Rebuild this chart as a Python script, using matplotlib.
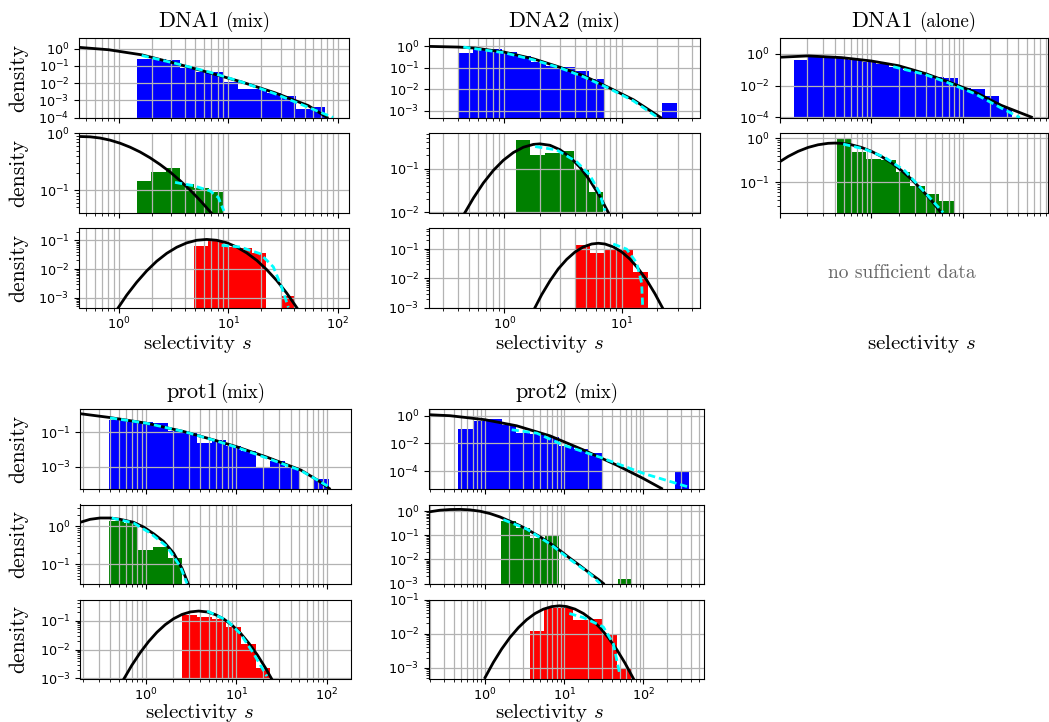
import numpy as np
import matplotlib
matplotlib.use("Agg")
import matplotlib.pyplot as plt
from matplotlib.ticker import LogLocator
from matplotlib.offsetbox import TextArea, HPacker, AnchoredOffsetbox

# ---------------- data ----------------
# DNA1 (mix)
d1m_xlim = (0.43, 127)
d1m_blue_bins = (1.45, 76.6)
d1m_blue_h = [0.256, 0.24, 0.224, 0.079, 0.046, 0.042, 0.0117, 0.0047, 0.0043, 0.0027, 0.0019, 0.00031, 0.00043]
d1m_blue_fit_s = [0.431, 0.8, 1.61, 3.25, 6.56, 13.2, 26.7, 53.9, 80]
d1m_blue_fit_d = [1.2, 0.873, 0.442, 0.142, 0.0418, 0.0117, 0.00274, 4.9e-4, 1e-4]
d1m_blue_tail_s = [1.61, 3.25, 6.56, 13.2, 26.7, 53.9, 91]
d1m_blue_tail_d = [0.404, 0.142, 0.0458, 0.0117, 0.0024, 3.9e-4, 1e-4]
d1m_green_bins = (1.45, 9.0)
d1m_green_h = [0.146, 0.21, 0.25, 0.13, 0.111, 0.091]
d1m_green_fit_s = [0.431, 0.543, 0.67, 0.827, 1.021, 1.26, 1.556, 1.92, 2.37, 2.93, 3.61, 4.46, 5.51, 7.04]
d1m_green_fit_d = [0.885, 0.873, 0.832, 0.763, 0.674, 0.574, 0.472, 0.373, 0.284, 0.209, 0.1475, 0.1007, 0.066, 0.0388]
d1m_green_tail_s = [3.25, 4.78, 6.8, 8.1, 9.1]
d1m_green_tail_d = [0.137, 0.12, 0.097, 0.074, 0.043]
d1m_red_bins = (4.85, 40.9)
d1m_red_h = [0.062, 0.095, 0.06, 0.056, 0.036, 0, 0.0012]
d1m_red_fit_s = [0.986, 1.175, 1.451, 1.791, 2.21, 2.73, 3.37, 4.16, 5.13, 6.34, 7.82, 9.65,
                 11.9, 14.7, 18.2, 22.4, 27.7, 34.2, 42.2]
d1m_red_fit_d = [4.6e-4, 1.24e-3, 3.5e-3, 8.7e-3, 0.0188, 0.0354, 0.0577, 0.0819, 0.101, 0.108,
                 0.101, 0.0828, 0.059, 0.0368, 0.0201, 0.0096, 4.0e-3, 1.46e-3, 4.6e-4]
d1m_red_tail_s = [8.68, 12.8, 19.5, 25.8, 30.7, 35.4]
d1m_red_tail_d = [0.067, 0.059, 0.0345, 0.0119, 0.0024, 4.6e-4]

# DNA2 (mix)
d2m_xlim = (0.228, 46.5)
d2m_blue_bins = (0.405, 29.5)
d2m_blue_h = [0.505, 0.78, 0.72, 0.54, 0.352, 0.184, 0.12, 0.107, 0.07, 0.0305, 0, 0, 0, 0, 0.0023]
d2m_blue_fit_s = [0.228, 0.405, 0.562, 1.0, 1.77, 2.98, 4.71, 7.7, 12.6, 21.5]
d2m_blue_fit_d = [1.0, 0.93, 0.835, 0.542, 0.264, 0.107, 0.0437, 0.0124, 0.00328, 4.9e-4]
d2m_blue_tail_s = [0.447, 1.0, 1.77, 2.98, 4.71, 7.7, 12.6, 19.9]
d2m_blue_tail_d = [0.93, 0.505, 0.237, 0.1, 0.039, 0.0115, 0.0029, 5.3e-4]
d2m_green_bins = (1.25, 6.95)
d2m_green_h = [0.45, 0.203, 0.23, 0.255, 0.1, 0.03]
d2m_green_fit_s = [0.462, 0.545, 0.662, 0.806, 0.98, 1.193, 1.452, 1.767, 2.01, 2.45, 2.98, 3.63,
                   4.42, 5.37, 6.54, 7.69]
d2m_green_fit_d = [0.01, 0.0213, 0.0468, 0.0906, 0.154, 0.231, 0.305, 0.354, 0.364, 0.338, 0.268,
                   0.182, 0.106, 0.0531, 0.0228, 0.01]
d2m_green_tail_s = [1.83, 2.79, 4.13, 5.36, 6.45, 7.2]
d2m_green_tail_d = [0.316, 0.265, 0.143, 0.07, 0.029, 0.011]
d2m_red_bins = (4.0, 16.7)
d2m_red_h = [0.138, 0.072, 0.1, 0.095, 0.0166]
d2m_red_fit_s = [1.826, 2.08, 2.45, 2.88, 3.4, 4.0, 4.71, 5.55, 6.32, 7.2, 8.47, 9.98, 11.75, 13.8,
                 16.3, 19.2, 22.2]
d2m_red_fit_d = [1e-3, 2.74e-3, 8.2e-3, 0.0209, 0.0445, 0.0792, 0.1186, 0.149, 0.158, 0.149, 0.119,
                 0.0805, 0.0456, 0.0218, 8.8e-3, 2.97e-3, 1e-3]
d2m_red_tail_s = [8.47, 11.0, 13.4, 14.8, 15.1]
d2m_red_tail_d = [0.149, 0.1, 0.034, 0.0069, 1e-3]

# DNA1 (alone)
d1a_xlim = (0.1, 85)
d1a_blue_bins = (0.143, 34.8)
d1a_blue_h = [0.417, 0.78, 0.645, 0.53, 0.417, 0.296, 0.22, 0.15, 0.096, 0.051, 0.036, 0.031, 0.0073, 0.006, 0.0022, 3.9e-4]
d1a_blue_fit_s = [0.1, 0.205, 0.475, 1.0, 1.98, 3.86, 6.94, 13.4, 26.3, 56]
d1a_blue_fit_d = [0.615, 0.747, 0.585, 0.36, 0.182, 0.0594, 0.0176, 0.0041, 5.8e-4, 1.06e-4]
d1a_blue_tail_s = [1.74, 3.86, 6.94, 13.4, 26.3, 41.8]
d1a_blue_tail_d = [0.157, 0.051, 0.0152, 0.0032, 3.9e-4, 1e-4]
d1a_green_bins = (0.426, 7.98)
d1a_green_h = [0.95, 0.49, 0.336, 0.32, 0.168, 0.081, 0.055, 0.039]
d1a_green_fit_s = [0.1, 0.1243, 0.1597, 0.2053, 0.2639, 0.3393, 0.401, 0.474, 0.609, 0.783, 1.006,
                   1.293, 1.663, 2.138, 2.748, 3.533, 4.54, 5.84]
d1a_green_fit_d = [0.29, 0.385, 0.502, 0.615, 0.706, 0.761, 0.771, 0.761, 0.706, 0.615, 0.502,
                   0.385, 0.277, 0.186, 0.118, 0.07, 0.039, 0.0204]
d1a_green_tail_s = [0.495, 0.85, 1.41, 2.33, 3.86, 6.1]
d1a_green_tail_d = [0.73, 0.565, 0.366, 0.183, 0.0594, 0.021]

# prot1 (mix)
p1m_xlim = (0.188, 186)
p1m_blue_bins = (0.392, 106)
p1m_blue_h = [0.48, 0.42, 0.39, 0.33, 0.11, 0.087, 0.025, 0.036, 0.016, 0.0085, 9.1e-4, 0.0022, 1e-3, 0, 1.9e-4]
p1m_blue_fit_s = [0.188, 0.391, 1, 2.62, 6.15, 10, 22.1, 51.9, 79.3, 107]
p1m_blue_fit_d = [1.17, 0.714, 0.334, 0.109, 0.031, 0.0146, 0.0035, 6.4e-4, 1.67e-4, 5.5e-5]
p1m_blue_tail_s = [0.401, 1, 2.62, 6.15, 10, 22.1, 51.9, 111]
p1m_blue_tail_d = [0.67, 0.334, 0.109, 0.03, 0.0134, 0.0031, 6e-4, 6e-5]
p1m_green_bins = (0.392, 2.54)
p1m_green_h = [1.36, 1.23, 0.24, 0.28, 0.144]
p1m_green_fit_s = [0.188, 0.241, 0.311, 0.401, 0.519, 0.729, 0.942, 1.217, 1.571, 2.03, 2.51, 2.93]
p1m_green_fit_d = [1.28, 1.53, 1.66, 1.66, 1.53, 1.28, 0.96, 0.639, 0.4, 0.196, 0.0783, 0.0313]
p1m_green_tail_s = [0.419, 0.729, 1.117, 1.71, 2.41, 2.85]
p1m_green_tail_d = [1.66, 1.23, 0.665, 0.294, 0.0867, 0.0313]
p1m_red_bins = (2.53, 23.8)
p1m_red_h = [0.149, 0.13, 0.115, 0.062, 0.016, 0.0023]
p1m_red_fit_s = [0.574, 0.699, 0.865, 1.071, 1.325, 1.639, 2.03, 2.51, 3.11, 3.84, 4.76, 5.89, 7.29,
                 9.02, 11.2, 13.8, 17.1, 21.2, 24.5]
p1m_red_fit_d = [1e-3, 2.86e-3, 7.8e-3, 0.01875, 0.0394, 0.0721, 0.1156, 0.162, 0.198, 0.212, 0.197,
                 0.159, 0.1116, 0.0678, 0.0357, 0.01637, 6.5e-3, 2.23e-3, 1e-3]
p1m_red_tail_s = [4.76, 7.93, 11.2, 15.7, 21.8]
p1m_red_tail_d = [0.212, 0.1, 0.034, 0.0069, 0.0012]

# prot2 (mix)
p2m_xlim = (0.196, 584)
p2m_blue_bins = (0.46, 380)
p2m_blue_h = [0.107, 0.387, 0.57, 0.22, 0.055, 0.049, 0.028, 0.0066, 0.0042, 0.0019, 0, 0, 0, 0, 0, 8e-5]
p2m_blue_fit_s = [0.196, 0.361, 1, 2.51, 6.62, 17.4, 46, 100, 170]
p2m_blue_fit_d = [1.18, 1.0, 0.512, 0.187, 0.035, 0.0034, 2.7e-4, 2.9e-5, 5.5e-6]
p2m_blue_tail_s = [2.17, 4.5, 9.6, 28.3, 100, 389]
p2m_blue_tail_d = [0.096, 0.055, 0.0078, 1e-3, 6.8e-5, 6.5e-6]
p2m_green_bins = (1.59, 72.3)
p2m_green_h = [0.38, 0.2, 0.077, 0.1, 0, 0, 0, 0, 1.5e-3]
p2m_green_fit_s = [0.196, 0.27, 0.361, 0.483, 0.646, 0.865, 1.157, 1.547, 2.07, 2.77, 3.70, 4.95,
                   6.62, 8.86, 11.85, 15.85, 21.2, 27.0, 31.3]
p2m_green_fit_d = [0.938, 1.101, 1.174, 1.193, 1.137, 1.0, 0.799, 0.579, 0.382, 0.251, 0.150, 0.0871,
                   0.0473, 0.0233, 0.01115, 5.5e-3, 2.63e-3, 1.48e-3, 1e-3]
p2m_green_tail_s = [1.7, 3.36, 6.62, 11.8, 21.2, 28.4]
p2m_green_tail_d = [0.448, 0.182, 0.044, 0.0101, 0.0025, 1e-3]
p2m_red_bins = (3.7, 70.8)
p2m_red_h = [0.0118, 0.058, 0.058, 0.026, 0.027, 0.0091, 9.5e-4]
p2m_red_fit_s = [1.0, 1.274, 1.623, 2.07, 2.64, 3.36, 4.28, 5.45, 6.95, 8.7, 10.77, 13.7, 17.5, 22.3,
                 28.4, 36.2, 46.1, 58.7, 74.8]
p2m_red_fit_d = [5.2e-4, 1.45e-3, 3.57e-3, 7.8e-3, 0.01503, 0.0257, 0.0389, 0.0521, 0.0619, 0.0653,
                 0.0622, 0.0524, 0.039, 0.0257, 0.0149, 7.6e-3, 3.46e-3, 1.38e-3, 4.9e-4]
p2m_red_tail_s = [11.6, 17.5, 31.2, 41.8, 50.6]
p2m_red_tail_d = [0.039, 0.0297, 0.0158, 0.0051, 6.2e-4]

# ---------------- figure ----------------
W, H = 1049, 722
fig = plt.figure(figsize=(W / 100, H / 100), dpi=100)

SERIF = dict(fontfamily="cmr10", math_fontfamily="cm")


def place(left, right, top, bottom, sharex=None):
    return fig.add_axes([left / W, (H - bottom) / H, (right - left) / W, (bottom - top) / H],
                        sharex=sharex)


def panel(ax, bins, heights, color, fit_s, fit_d, tail_s, tail_d, ylim, yexp, xlim):
    h = np.array(heights, dtype=float)
    edges = np.geomspace(bins[0], bins[1], len(h) + 1)
    keep = h > 0
    ax.bar(edges[:-1][keep], h[keep], width=np.diff(edges)[keep], align="edge",
           color=color, linewidth=0)
    ax.plot(fit_s, fit_d, color="black", lw=2.0)
    ax.plot(tail_s, tail_d, color="cyan", lw=2.0, linestyle=(0, (2.6, 1.4)))
    ax.set_xscale("log")
    ax.set_yscale("log")
    ax.xaxis.set_major_locator(LogLocator(base=10, numticks=50))
    ax.xaxis.set_minor_locator(LogLocator(base=10, subs=np.arange(2, 10), numticks=50))
    ax.set_yticks([10.0 ** e for e in yexp])
    ax.set_xlim(*xlim)
    ax.set_ylim(*ylim)
    ax.grid(True, which="both", axis="x", color="#b3b3b3", lw=0.9)
    ax.grid(True, which="major", axis="y", color="#b3b3b3", lw=0.9)
    ax.tick_params(labelsize=9.2)
    ax.tick_params(axis="x", which="major", pad=2.5)


def put_title(ax, big, small, sep=4):
    a = TextArea(big, textprops=dict(fontfamily="cmr10", fontsize=16))
    b = TextArea(small, textprops=dict(fontfamily="cmr10", fontsize=13.5))
    box = HPacker(children=[a, b], align="baseline", pad=0, sep=sep)
    anc = AnchoredOffsetbox(loc="lower center", child=box, pad=0, borderpad=0.45,
                            frameon=False, bbox_to_anchor=(0.5, 1.0),
                            bbox_transform=ax.transAxes)
    ax.add_artist(anc)


def ylab(ax, x_abs):
    y0, y1 = ax.get_position().y0, ax.get_position().y1
    fig.text(x_abs / W, (y0 + y1) / 2, "density", rotation=90, ha="center", va="center",
             fontsize=15.5, **SERIF)


def xlab(x_abs, y_abs):
    fig.text(x_abs / W, (H - y_abs) / H, r"selectivity $s$", ha="center", va="baseline",
             fontsize=15, **SERIF)


top_rows = [(38, 117.5), (133, 212.5), (228, 307.5)]
bot_rows = [(409, 488.5), (504.5, 583.5), (599.5, 678.5)]

# DNA1 (mix)
a1 = place(79, 349, *top_rows[0])
a2 = place(79, 349, *top_rows[1], sharex=a1)
a3 = place(79, 349, *top_rows[2], sharex=a1)
panel(a1, d1m_blue_bins, d1m_blue_h, "blue", d1m_blue_fit_s, d1m_blue_fit_d,
      d1m_blue_tail_s, d1m_blue_tail_d, (1e-4, 4.2), [0, -1, -2, -3, -4], d1m_xlim)
panel(a2, d1m_green_bins, d1m_green_h, "green", d1m_green_fit_s, d1m_green_fit_d,
      d1m_green_tail_s, d1m_green_tail_d, (0.0403, 1.02), [0, -1], d1m_xlim)
panel(a3, d1m_red_bins, d1m_red_h, "red", d1m_red_fit_s, d1m_red_fit_d,
      d1m_red_tail_s, d1m_red_tail_d, (4.6e-4, 0.27), [-1, -2, -3], d1m_xlim)
for ax in (a1, a2):
    ax.tick_params(labelbottom=False)
for ax in (a1, a2, a3):
    ylab(ax, 18.5)
put_title(a1, "DNA1", "(mix)")
xlab(198, 349)

# DNA2 (mix)
b1 = place(429, 700, *top_rows[0])
b2 = place(429, 700, *top_rows[1], sharex=b1)
b3 = place(429, 700, *top_rows[2], sharex=b1)
panel(b1, d2m_blue_bins, d2m_blue_h, "blue", d2m_blue_fit_s, d2m_blue_fit_d,
      d2m_blue_tail_s, d2m_blue_tail_d, (4.9e-4, 2.46), [0, -1, -2, -3], d2m_xlim)
panel(b2, d2m_green_bins, d2m_green_h, "green", d2m_green_fit_s, d2m_green_fit_d,
      d2m_green_tail_s, d2m_green_tail_d, (0.01, 0.643), [-1, -2], d2m_xlim)
panel(b3, d2m_red_bins, d2m_red_h, "red", d2m_red_fit_s, d2m_red_fit_d,
      d2m_red_tail_s, d2m_red_tail_d, (1e-3, 0.526), [-1, -2, -3], d2m_xlim)
for ax in (b1, b2):
    ax.tick_params(labelbottom=False)
put_title(b1, "DNA2", "(mix)")
xlab(549.5, 349)

# DNA1 (alone)
c1 = place(779.5, 1048, *top_rows[0])
c2 = place(779.5, 1048, *top_rows[1], sharex=c1)
panel(c1, d1a_blue_bins, d1a_blue_h, "blue", d1a_blue_fit_s, d1a_blue_fit_d,
      d1a_blue_tail_s, d1a_blue_tail_d, (1e-4, 10), [0, -2, -4], d1a_xlim)
panel(c2, d1a_green_bins, d1a_green_h, "green", d1a_green_fit_s, d1a_green_fit_d,
      d1a_green_tail_s, d1a_green_tail_d, (0.021, 1.3), [0, -1], d1a_xlim)
for ax in (c1, c2):
    ax.tick_params(labelbottom=False)
put_title(c1, "DNA1", "(alone)")
fig.text(902 / W, (H - 273) / H, "no sufficient data", ha="center", va="center",
         fontsize=14, color="#666666", **SERIF)
xlab(922, 349)

# prot1 (mix)
e1 = place(80.3, 351, *bot_rows[0])
e2 = place(80.3, 351, *bot_rows[1], sharex=e1)
e3 = place(80.3, 351, *bot_rows[2], sharex=e1)
panel(e1, p1m_blue_bins, p1m_blue_h, "blue", p1m_blue_fit_s, p1m_blue_fit_d,
      p1m_blue_tail_s, p1m_blue_tail_d, (5.5e-5, 2.19), [-1, -3], p1m_xlim)
panel(e2, p1m_green_bins, p1m_green_h, "green", p1m_green_fit_s, p1m_green_fit_d,
      p1m_green_tail_s, p1m_green_tail_d, (0.0313, 3.76), [0, -1], p1m_xlim)
panel(e3, p1m_red_bins, p1m_red_h, "red", p1m_red_fit_s, p1m_red_fit_d,
      p1m_red_tail_s, p1m_red_tail_d, (1e-3, 0.53), [-1, -2, -3], p1m_xlim)
for ax in (e1, e2):
    ax.tick_params(labelbottom=False)
for ax in (e1, e2, e3):
    ylab(ax, 18.5)
put_title(e1, "prot1", "(mix)", sep=1)
xlab(199.5, 717.5)

# prot2 (mix)
f1 = place(429, 704, *bot_rows[0])
f2 = place(429, 704, *bot_rows[1], sharex=f1)
f3 = place(429, 704, *bot_rows[2], sharex=f1)
panel(f1, p2m_blue_bins, p2m_blue_h, "blue", p2m_blue_fit_s, p2m_blue_fit_d,
      p2m_blue_tail_s, p2m_blue_tail_d, (5.5e-6, 3.05), [0, -2, -4], p2m_xlim)
panel(f2, p2m_green_bins, p2m_green_h, "green", p2m_green_fit_s, p2m_green_fit_d,
      p2m_green_tail_s, p2m_green_tail_d, (1e-3, 1.9), [0, -1, -2, -3], p2m_xlim)
panel(f3, p2m_red_bins, p2m_red_h, "red", p2m_red_fit_s, p2m_red_fit_d,
      p2m_red_tail_s, p2m_red_tail_d, (4.9e-4, 0.1), [-1, -2, -3], p2m_xlim)
for ax in (f1, f2):
    ax.tick_params(labelbottom=False)
put_title(f1, "prot2", "(mix)")
xlab(549.5, 717.5)

fig.savefig("out.png", dpi=100)
